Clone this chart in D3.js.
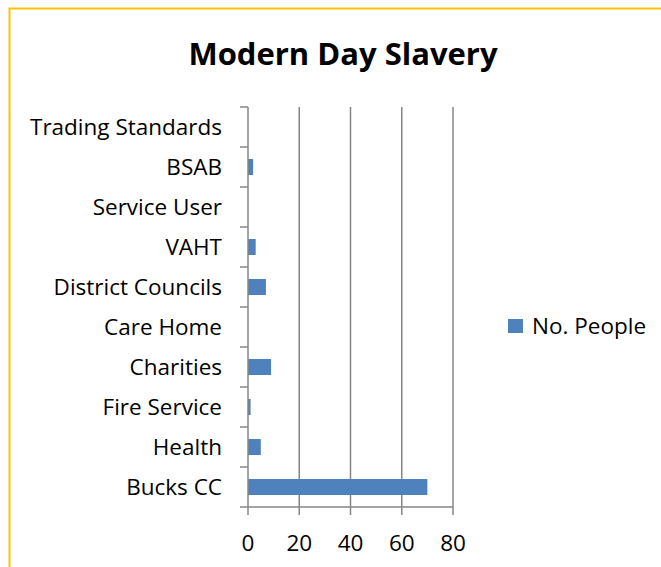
<!DOCTYPE html>
<html>
<head>
<meta charset="utf-8">
<script src="https://cdn.jsdelivr.net/npm/d3@7"></script>
<style>
  body { margin: 0; background: #fff; }
  text { font-family: "Open Sans", sans-serif; fill: #000; }
</style>
</head>
<body>
<div id="visual"></div>
<script>
// data, bottom to top as drawn in the chart
const categories = ["Bucks CC", "Health", "Fire Service", "Charities", "Care Home",
    "District Councils", "VAHT", "Service User", "BSAB", "Trading Standards"];
const values = [70, 5, 1, 9, 0, 7, 3, 0, 2, 0];
const xTicks = [0, 20, 40, 60, 80];
const seriesName = "No. People";

const width = 661, height = 567;
const BAR = "#4F81BD", GRID = "#868686";
const LABEL_SIZE = "22.5px";

let svg = d3.select("#visual")
    .append("svg")
    .attr("width", width)
    .attr("height", height);

// outer frame (only top and left edges show)
svg.append("path")
    .attr("d", "M9.5," + height + "V8.5H" + width)
    .attr("fill", "none")
    .attr("stroke", "#FFC000")
    .attr("stroke-width", 2);

// title
svg.append("text")
    .attr("x", 343)
    .attr("y", 65)
    .attr("text-anchor", "middle")
    .style("font-size", "31px")
    .style("font-weight", "700")
    .text("Modern Day Slavery");

let x = d3.scaleLinear().domain([0, 80]).range([248, 453]);
let y = d3.scaleBand()
    .domain(categories.slice().reverse())
    .range([107, 507])
    .paddingInner(0.6)
    .paddingOuter(0.3);

// gridlines
svg.append("g")
    .selectAll("line")
    .data(xTicks.filter(d => d > 0))
    .enter().append("line")
    .attr("x1", d => x(d)).attr("x2", d => x(d))
    .attr("y1", 107).attr("y2", 507)
    .attr("stroke", GRID)
    .attr("stroke-width", 1.5);

// bars
svg.append("g")
    .selectAll("rect")
    .data(categories)
    .enter().append("rect")
    .attr("x", x(0))
    .attr("y", d => y(d))
    .attr("width", (d, i) => x(values[i]) - x(0))
    .attr("height", y.bandwidth())
    .attr("fill", BAR);

// y axis: category separators as ticks
let yStep = (507 - 107) / categories.length;
let yAxis = svg.append("g");
yAxis.append("line")
    .attr("x1", x(0)).attr("x2", x(0))
    .attr("y1", 107).attr("y2", 507)
    .attr("stroke", GRID).attr("stroke-width", 1.5);
yAxis.selectAll(".sep")
    .data(d3.range(categories.length + 1))
    .enter().append("line")
    .attr("x1", x(0) - 8).attr("x2", x(0))
    .attr("y1", i => 107 + i * yStep).attr("y2", i => 107 + i * yStep)
    .attr("stroke", GRID).attr("stroke-width", 1.5);
yAxis.selectAll("text")
    .data(categories)
    .enter().append("text")
    .attr("x", 222)
    .attr("y", d => y(d) + y.bandwidth() / 2)
    .attr("dy", "0.35em")
    .attr("text-anchor", "end")
    .style("font-size", LABEL_SIZE)
    .text(d => d);

// x axis
let xAxis = svg.append("g");
xAxis.append("line")
    .attr("x1", x(0)).attr("x2", x(80))
    .attr("y1", 507).attr("y2", 507)
    .attr("stroke", GRID).attr("stroke-width", 1.5);
xAxis.selectAll(".tick")
    .data(xTicks)
    .enter().append("line")
    .attr("x1", d => x(d)).attr("x2", d => x(d))
    .attr("y1", 507).attr("y2", 515)
    .attr("stroke", GRID).attr("stroke-width", 1.5);
xAxis.selectAll("text")
    .data(xTicks)
    .enter().append("text")
    .attr("x", d => x(d))
    .attr("y", 551)
    .attr("text-anchor", "middle")
    .style("font-size", LABEL_SIZE)
    .text(d => d);

// legend
let legend = svg.append("g");
legend.append("rect")
    .attr("x", 508).attr("y", 319)
    .attr("width", 15).attr("height", 14)
    .attr("fill", BAR);
legend.append("text")
    .attr("x", 532).attr("y", 334)
    .style("font-size", LABEL_SIZE)
    .text(seriesName);
</script>
</body>
</html>
